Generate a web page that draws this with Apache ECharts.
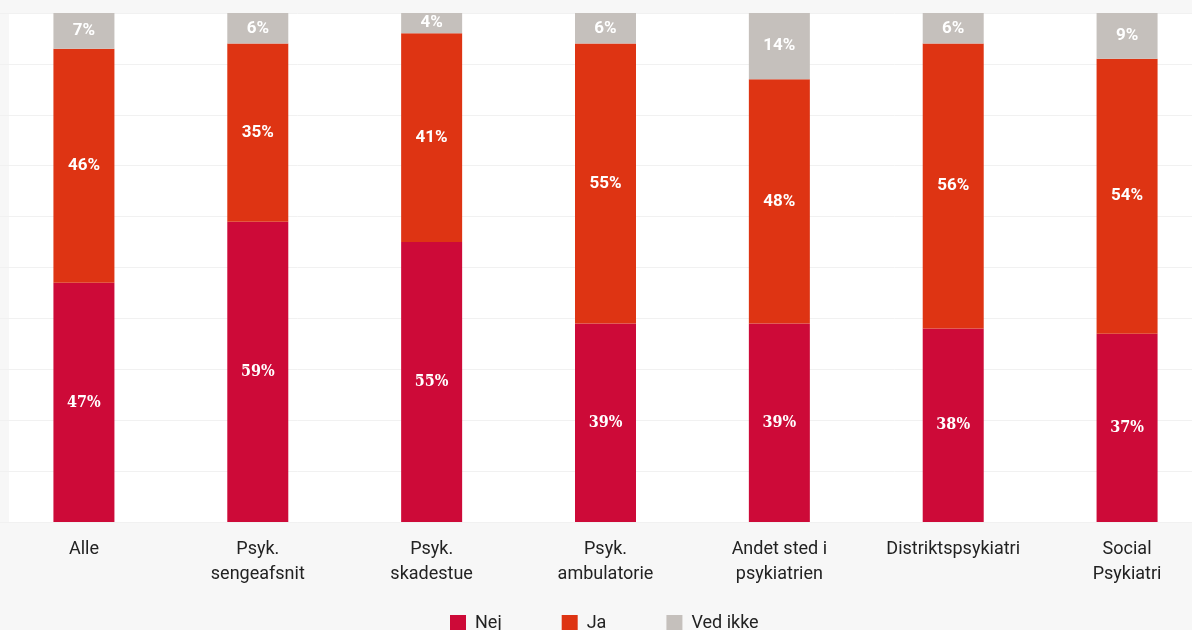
<!DOCTYPE html>
<html><head><meta charset="utf-8">
<script src="https://cdn.jsdelivr.net/npm/echarts@6/dist/echarts.min.js"></script>
<style>html,body{margin:0;padding:0;background:#f7f7f7}#c{width:1192px;height:630px}</style>
</head><body><div id="c"></div>
<script>
var categories = ['Alle', 'Psyk.\nsengeafsnit', 'Psyk.\nskadestue', 'Psyk.\nambulatorie', 'Andet sted i\npsykiatrien', 'Distriktspsykiatri', 'Social\nPsykiatri'];
var nej = [47, 59, 55, 39, 39, 38, 37];
var ja = [46, 35, 41, 55, 48, 56, 54];
var vedIkke = [7, 6, 4, 6, 14, 6, 9];
var yTicks = [0, 10, 20, 30, 40, 50, 60, 70, 80, 90, 100];

var chart = echarts.init(document.getElementById('c'), null, {renderer: 'canvas'});
function lbl(font, size) {
  return {show: true, position: 'inside', color: '#fff', fontWeight: 'bold', fontSize: size,
    fontFamily: font, formatter: function (p) { return p.value + '%'; }};
}
chart.setOption({
  backgroundColor: '#f7f7f7',
  animation: false,
  graphic: [{type: 'rect', left: 9, top: 13, z: -10, silent: true,
    shape: {width: 1183, height: 509}, style: {fill: '#ffffff'}}],
  grid: {left: -3, right: -22, top: 13, bottom: 108, containLabel: false, outerBoundsMode: 'none'},
  xAxis: {type: 'category', data: categories,
    axisLine: {show: false}, axisTick: {show: false},
    axisLabel: {color: '#222', fontSize: 18, fontFamily: 'Roboto', lineHeight: 25, margin: 15, interval: 0}},
  yAxis: {type: 'value', min: yTicks[0], max: yTicks[yTicks.length - 1], interval: 10,
    axisLabel: {show: false}, axisLine: {show: false}, axisTick: {show: false},
    splitLine: {lineStyle: {color: '#f1f1f1', width: 1}}},
  legend: {left: 445, top: 609, itemWidth: 16, itemHeight: 16, itemGap: 60,
    icon: 'rect', textStyle: {color: '#222', fontSize: 18, fontFamily: 'Roboto', padding: [0, 0, 0, 4]},
    data: ['Nej', 'Ja', 'Ved ikke']},
  series: [
    {name: 'Nej', type: 'bar', stack: 's', barWidth: 61, data: nej, itemStyle: {color: '#cd0a38'}, label: lbl('"DejaVu Serif Condensed", "DejaVu Serif"', 16)},
    {name: 'Ja', type: 'bar', stack: 's', barWidth: 61, data: ja, itemStyle: {color: '#de3413'}, label: lbl('Roboto', 17)},
    {name: 'Ved ikke', type: 'bar', stack: 's', barWidth: 61, data: vedIkke, itemStyle: {color: '#c5c0bc'}, label: lbl('Roboto', 17)}
  ]
});
</script></body></html>
